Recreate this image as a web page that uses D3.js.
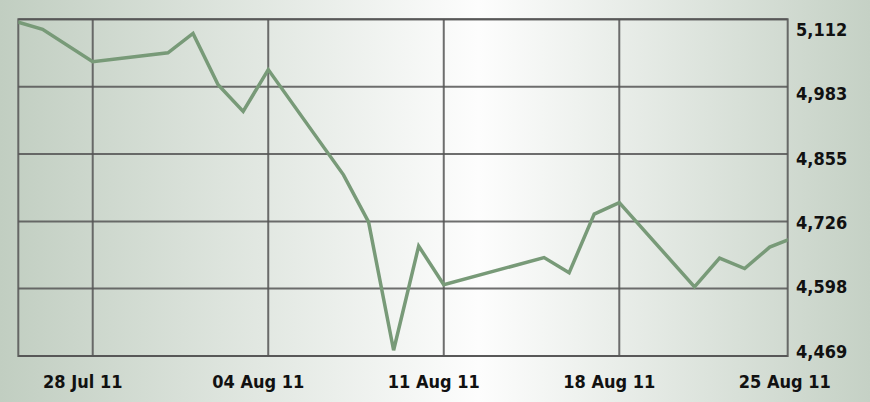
<!DOCTYPE html>
<html>
<head>
<meta charset="utf-8">
<script src="https://cdn.jsdelivr.net/npm/d3@7"></script>
<style>
  body { margin: 0; background: #fff; }
  svg text { font-family: "DejaVu Sans Condensed", "Liberation Sans Narrow", sans-serif; font-weight: bold; fill: #111; }
</style>
</head>
<body>
<div id="chart"></div>
<script>
// trading days and closing values
const dates = ['2011-07-25', '2011-07-26', '2011-07-28', '2011-07-31', '2011-08-01', '2011-08-02',
  '2011-08-03', '2011-08-04', '2011-08-07', '2011-08-08', '2011-08-09', '2011-08-10', '2011-08-11',
  '2011-08-15', '2011-08-16', '2011-08-17', '2011-08-18', '2011-08-21', '2011-08-22', '2011-08-23',
  '2011-08-24', '2011-08-25']
const values = [5107, 5093, 5031, 5048, 5085, 4987, 4936, 5016, 4815, 4725, 4480, 4679, 4605,
  4657, 4628, 4740, 4762, 4601, 4656, 4636, 4677, 4696]
const yTicks = [4469, 4598, 4726, 4855, 4983, 5112]
const xTicks = ['2011-07-28', '2011-08-04', '2011-08-11', '2011-08-18', '2011-08-25']

const parse = d3.timeParse('%Y-%m-%d')
const data = dates.map(function (d, i) { return { date: parse(d), value: values[i] } })

const W = 870
const H = 402
const plot = { left: 18.3, right: 787.7, top: 19.3, bottom: 356 }

const svg = d3.select('#chart')
  .append('svg')
  .attr('width', W)
  .attr('height', H)

// background gradient: greenish grey at the sides, white in the middle
const defs = svg.append('defs')
const grad = defs.append('linearGradient')
  .attr('id', 'bg')
  .attr('x1', '0%').attr('x2', '100%')
  .attr('y1', '0%').attr('y2', '0%')
grad.append('stop').attr('offset', '0%').attr('stop-color', '#c1cec1')
grad.append('stop').attr('offset', '55%').attr('stop-color', '#fdfdfd')
grad.append('stop').attr('offset', '100%').attr('stop-color', '#c5d1c5')
svg.append('rect')
  .attr('width', W).attr('height', H)
  .attr('fill', 'url(#bg)')

defs.append('clipPath').attr('id', 'clip')
  .append('rect')
  .attr('x', plot.left).attr('y', plot.top - 5)
  .attr('width', plot.right - plot.left)
  .attr('height', plot.bottom - plot.top + 10)

// x: one week between the gridlines, the last week runs past the right border
const x = d3.scaleTime()
  .domain([parse('2011-07-25'), parse('2011-08-25')])
  .range([17.5, 794.8])

const y = d3.scaleLinear()
  .domain([yTicks[0], yTicks[yTicks.length - 1]])
  .range([plot.bottom, plot.top])

// the value labels sit a little inside the gridline span
const yLabel = d3.scaleLinear()
  .domain(y.domain())
  .range([351.7, 29.3])

const gridColor = '#555'

// horizontal gridlines
svg.append('g')
  .selectAll('line')
  .data(yTicks)
  .enter()
  .append('line')
  .attr('x1', plot.left)
  .attr('x2', plot.right)
  .attr('y1', function (d) { return y(d) })
  .attr('y2', function (d) { return y(d) })
  .attr('stroke', gridColor)
  .attr('stroke-width', 2)
  .attr('stroke-opacity', 0.85)

// vertical gridlines
svg.append('g')
  .selectAll('line')
  .data(xTicks.slice(0, 4))
  .enter()
  .append('line')
  .attr('x1', function (d) { return x(parse(d)) })
  .attr('x2', function (d) { return x(parse(d)) })
  .attr('y1', plot.top)
  .attr('y2', plot.bottom)
  .attr('stroke', gridColor)
  .attr('stroke-width', 2)
  .attr('stroke-opacity', 0.85)

// border
svg.append('rect')
  .attr('x', plot.left)
  .attr('y', plot.top)
  .attr('width', plot.right - plot.left)
  .attr('height', plot.bottom - plot.top)
  .attr('fill', 'none')
  .attr('stroke', gridColor)
  .attr('stroke-width', 2)
  .attr('stroke-opacity', 0.85)

// the index line
const line = d3.line()
  .x(function (d) { return x(d.date) })
  .y(function (d) { return y(d.value) })

svg.append('path')
  .datum(data)
  .attr('clip-path', 'url(#clip)')
  .attr('d', line)
  .attr('fill', 'none')
  .attr('stroke', '#789a78')
  .attr('stroke-width', 3.5)
  .attr('stroke-linejoin', 'miter')

// right value labels
const fmt = d3.format(',')
svg.append('g')
  .selectAll('text')
  .data(yTicks)
  .enter()
  .append('text')
  .attr('x', 796)
  .attr('y', function (d) { return yLabel(d) })
  .attr('dy', '0.36em')
  .attr('font-size', 18)
  .text(function (d) { return fmt(d) })

// date labels
const fmtDate = d3.timeFormat('%d %b %y')
svg.append('g')
  .selectAll('text')
  .data(xTicks)
  .enter()
  .append('text')
  .attr('x', function (d) { return x(parse(d)) - 10 })
  .attr('y', 388)
  .attr('text-anchor', 'middle')
  .attr('font-size', 18)
  .text(function (d) { return fmtDate(parse(d)) })
</script>
</body>
</html>
